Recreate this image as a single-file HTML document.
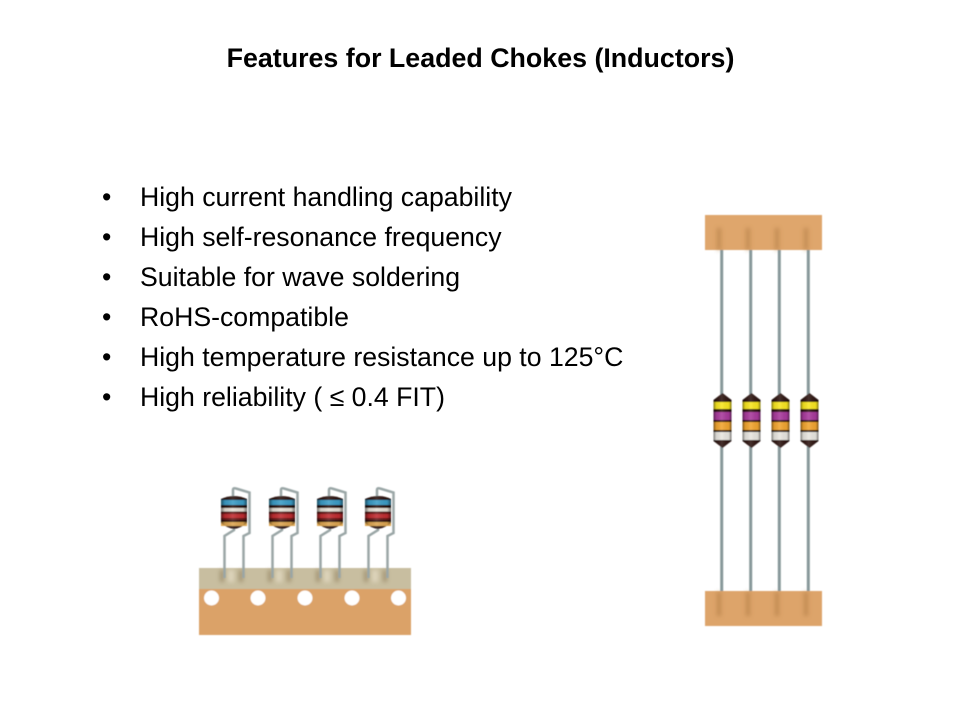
<!DOCTYPE html>
<html><head><meta charset="utf-8"><style>
html,body{margin:0;padding:0;background:#fff}
svg{display:block}
text{font-family:"Liberation Sans",sans-serif;fill:#000}
</style></head><body>
<svg width="960" height="720" viewBox="0 0 960 720" xmlns="http://www.w3.org/2000/svg">
<defs>
<filter id="soft" x="-5%" y="-5%" width="110%" height="110%"><feGaussianBlur stdDeviation="0.45"/></filter>
<filter id="soft2" x="-100%" y="-30%" width="300%" height="160%"><feGaussianBlur stdDeviation="2"/></filter>
<linearGradient id="body" x1="0" x2="1" y1="0" y2="0">
<stop offset="0" stop-color="#000" stop-opacity=".5"/><stop offset=".15" stop-color="#000" stop-opacity=".08"/><stop offset=".45" stop-color="#fff" stop-opacity=".12"/><stop offset=".85" stop-color="#000" stop-opacity=".05"/><stop offset="1" stop-color="#000" stop-opacity=".5"/>
</linearGradient>
<g id="rad">
<path d="M233 498V490Q233 487.500 236 488.500L249.500 492.500V533L243.500 536V578" fill="none" stroke="#9aa6a6" stroke-width="2.500"/>
<path d="M234 526V530L224.500 536V578" fill="none" stroke="#9aa6a6" stroke-width="2.500"/>
<path d="M221 499Q234 493 247 499V523Q241 528 234 529Q227 528 221 523Z" fill="#2b1410"/>
<rect x="221" y="512" width="26" height="8" fill="#6a1a1a"/>
<rect x="221" y="500" width="26" height="5" fill="#3b9cc6"/>
<rect x="221" y="508" width="26" height="3.500" fill="#e6dfd4"/>
<rect x="221" y="514" width="26" height="4" fill="#c02c30"/>
<rect x="221" y="522" width="26" height="4" fill="#dca450"/>
<path d="M221 499Q234 493 247 499V523Q241 528 234 529Q227 528 221 523Z" fill="url(#body)"/>
</g>
<g id="ax">
<path d="M713.500 400L722.500 393L731.500 400V441L722.500 448L713.500 441Z" fill="#2e1512"/>
<rect x="713.500" y="402" width="18" height="7" fill="#f8e620"/>
<rect x="713.500" y="412" width="18" height="8" fill="#a93a9c"/>
<rect x="713.500" y="422" width="18" height="8" fill="#f2a52f"/>
<rect x="713.500" y="432" width="18" height="8" fill="#e8e6e0"/>
<path d="M713.500 400L722.500 393L731.500 400V441L722.500 448L713.500 441Z" fill="url(#body)"/>
</g>
</defs>

<text x="480.500" y="67" text-anchor="middle" font-size="26.800" font-weight="700">Features for Leaded Chokes (Inductors)</text>

<g font-size="26.670">
<text x="102" y="206">•</text><text x="140" y="206">High current handling capability</text>
<text x="102" y="246">•</text><text x="140" y="246">High self-resonance frequency</text>
<text x="102" y="286">•</text><text x="140" y="286">Suitable for wave soldering</text>
<text x="102" y="326">•</text><text x="140" y="326">RoHS-compatible</text>
<text x="102" y="366">•</text><text x="140" y="366">High temperature resistance up to 125°C</text>
<text x="102" y="406">•</text><text x="140" y="406">High reliability ( ≤ 0.4 FIT)</text>
</g>

<g filter="url(#soft)">
<!-- radial chokes on tape -->
<rect x="199" y="568" width="212" height="21" fill="#c8bea0"/>
<rect x="199" y="589" width="212" height="46" fill="#dba268"/>
<g filter="url(#soft2)" fill="#e4dcc4" opacity=".8">
<rect x="228" y="570" width="6" height="12"/><rect x="276" y="570" width="6" height="12"/><rect x="324" y="570" width="6" height="12"/><rect x="372" y="570" width="6" height="12"/>
</g>
<g filter="url(#soft2)" fill="#83704e" opacity=".55">
<rect x="220" y="570" width="4" height="12"/><rect x="239" y="570" width="4" height="12"/>
<rect x="268" y="570" width="4" height="12"/><rect x="287" y="570" width="4" height="12"/>
<rect x="316" y="570" width="4" height="12"/><rect x="335" y="570" width="4" height="12"/>
<rect x="364" y="570" width="4" height="12"/><rect x="383" y="570" width="4" height="12"/>
</g>
<use href="#rad"/><use href="#rad" x="48"/><use href="#rad" x="96"/><use href="#rad" x="144"/>
<g fill="#fff">
<circle cx="211.500" cy="598" r="7.500"/><circle cx="258" cy="598" r="7.500"/><circle cx="305" cy="598" r="7.500"/><circle cx="352" cy="598" r="7.500"/><circle cx="398.500" cy="598" r="7.500"/>
</g>

<!-- axial chokes on tape -->
<rect x="705" y="215" width="117" height="35" fill="#dfa66c"/>
<rect x="705" y="591" width="117" height="35" fill="#dda46a"/>
<g filter="url(#soft2)" fill="#a8743c" opacity=".55">
<rect x="717" y="228" width="4" height="22"/><rect x="746" y="228" width="4" height="22"/><rect x="775" y="228" width="4" height="22"/><rect x="804" y="228" width="4" height="22"/>
<rect x="717" y="592" width="4" height="24"/><rect x="746" y="592" width="4" height="24"/><rect x="775" y="592" width="4" height="24"/><rect x="804" y="592" width="4" height="24"/>
</g>
<g stroke="#87989a" stroke-width="3">
<path d="M721.700 250V591M750.700 250V591M779.300 250V591M808.300 250V591"/>
</g>
<use href="#ax"/><use href="#ax" x="29"/><use href="#ax" x="58"/><use href="#ax" x="87"/>
</g>
</svg>
</body></html>
